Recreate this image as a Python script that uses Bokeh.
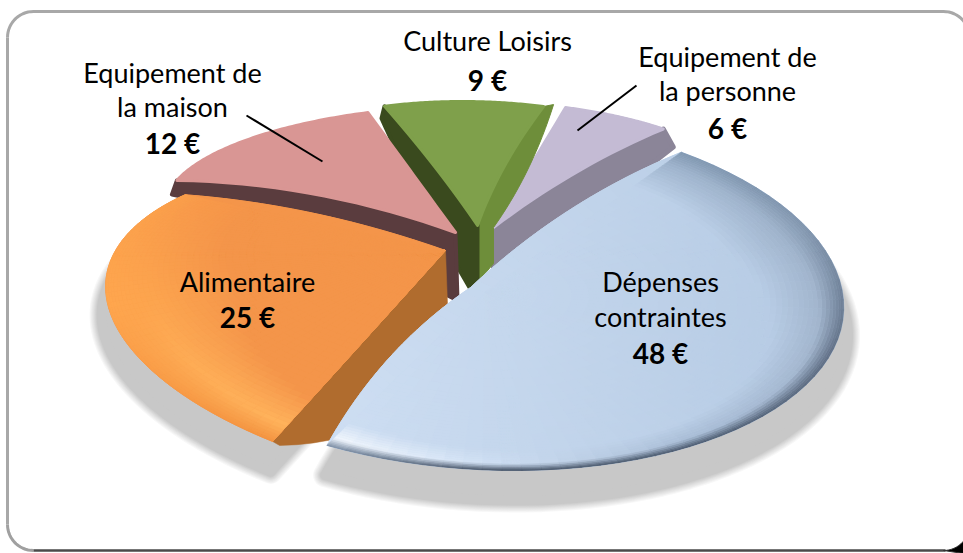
import numpy as np
from bokeh.plotting import figure
from bokeh.models import Range1d
from bokeh.core.properties import value
from bokeh.embed import file_html
from bokeh.resources import INLINE

# ---- data
categories = ["Dépenses contraintes", "Alimentaire", "Equipement de la maison", "Culture Loisirs", "Equipement de la personne"]
amounts = [48, 25, 12, 9, 6]
amount_labels = ["48 €", "25 €", "12 €", "9 €", "6 €"]

W, H = 963, 553
FONT = "Lato"
FIRST_ANGLE = 52.0

p = figure(width=W, height=H, x_range=Range1d(0, W), y_range=Range1d(H, 0),
           toolbar_location=None, output_backend="svg", min_border=0,
           outline_line_color=None, background_fill_color="white", border_fill_color="white")
p.styles = {"position": "absolute", "left": "0px", "top": "0px"}
p.axis.visible = False
p.grid.visible = False

# angles come from the values
fractions = np.array(amounts) / sum(amounts) * 360.0
ends = FIRST_ANGLE - np.cumsum(fractions)
starts = ends + fractions

# per-slice projection: apex, x scale, shear, y scale, perspective
FRAME = {
    0: dict(ax=484, ay=292, sx=358, sh=-30, sy=178, P=0.0, ex=470, ey=287),
    1: dict(ax=445, ay=250, sx=330, sh=-75, sy=134.5, P=0.46),
    2: dict(ax=455, ay=232, sx=279, sh=18.7, sy=84, P=-0.34),
    3: dict(ax=477, ay=225, sx=285, sh=-15, sy=124, P=0.0),
    4: dict(ax=493, ay=227, sx=288, sh=-9.6, sy=125, P=0.0),
}
# bow of the first/second straight edge at mid length, px
BOW = {
    0: ((-6, -10), (-9, -9)),
    1: ((2, -2), (0, -9)),
    2: ((0, -12), (0, 0)),
    3: ((3, 0), (-6, 0)),
    4: ((0, 0), (-2, -6)),
}


def proj(i, th, r=1.0):
    f = FRAME[i]
    u, v = r * np.cos(np.radians(th)), r * np.sin(np.radians(th))
    w = 1 + f["P"] * v
    return f["ax"] + (f["sx"] * u + f["sh"] * v) / w, f["ay"] - f["sy"] * v / w


def bez(a, b, bow, n=18):
    t = np.linspace(0, 1, n)[:, None]
    a, b = np.array(a, float), np.array(b, float)
    c = (a + b) / 2 + 2 * np.array(bow, float)
    return (1 - t) ** 2 * a + 2 * t * (1 - t) * c + t ** 2 * b


def edge_apex(i):
    f = FRAME[i]
    return f.get("ex", f["ax"]), f.get("ey", f["ay"])


def outline(i, n=70):
    apex = edge_apex(i)
    th = np.linspace(starts[i], ends[i], n)
    rx, ry = proj(i, th)
    rim = np.column_stack([rx, ry])
    e0 = bez(apex, rim[0], BOW[i][0])
    e1 = bez(rim[-1], apex, BOW[i][1])
    return np.vstack([e0, rim, e1])


def to_rgb(h):
    return np.array([int(h[k:k + 2], 16) for k in (1, 3, 5)], float)


def to_hex(c):
    c = np.clip(np.round(c), 0, 255).astype(int)
    return "#%02x%02x%02x" % tuple(c)


def top(i, color, lw=3):
    o = outline(i)
    p.patch(o[:, 0], o[:, 1], fill_color=color, line_color=color, line_width=lw, line_join="round")


def wall(i, edge, color, rim_off, apex_offs, bow=(0, 0), lw=0.5):
    apex = np.array([FRAME[i]["ax"], FRAME[i]["ay"]], float)
    th = starts[i] if edge == 0 else ends[i]
    c = np.array(proj(i, th), float)
    up = bez(apex, c, BOW[i][edge])
    low = bez(c + np.array(rim_off), apex + np.array(apex_offs[0]), bow)
    extra = apex + np.array(apex_offs[1:], float) if len(apex_offs) > 1 else np.zeros((0, 2))
    pts = np.vstack([up, low, extra])
    p.patch(pts[:, 0], pts[:, 1], fill_color=color, line_color=color, line_width=lw, line_join="round")


def shadow(i, scale, dy, color="#c8c8c8", steps=8):
    """Soft shadow: the slice outline with round strokes that narrow towards the final grey."""
    o = outline(i)
    f = FRAME[i]
    base = to_rgb(color)
    x = f["ax"] + (o[:, 0] - f["ax"]) * scale
    y = f["ay"] + (o[:, 1] - f["ay"]) * scale + dy
    for k in range(steps):
        t = (k + 1) / steps
        c = to_hex(255 + (base - 255) * t)
        lw = 26 - 16 * t
        p.patch(x, y, fill_color=c, line_color=c, line_width=lw, line_join="round")


def mesh(i, thk, widths, edge_c, high_c, base_c, grad=(0, 0, (0, 0, 0)), nth=54, nr=30, depth=0.42):
    """Shaded top surface: rings near the rim with colours varying along the rim."""
    th_edges = np.linspace(starts[i], ends[i], nth + 1)
    r_edges = np.concatenate([1 - depth * (np.arange(nr) / (nr - 1)) ** 1.5, np.linspace(1 - depth, 0, 13)[1:]])
    ec = np.array([to_rgb(c) for c in edge_c])
    hc = np.array([to_rgb(c) for c in high_c])
    xs, ys, cols = [], [], []
    base = to_rgb(base_c)
    order = np.argsort(thk)
    tk = np.array(thk, float)[order]

    def flat(xm):
        return base + (xm - grad[0]) * grad[1] * np.array(grad[2], float)

    # slivers between the curved straight-edge and the true radial edge
    apex = edge_apex(i)
    for th, bow, forward in ((starts[i], BOW[i][0], True), (ends[i], BOW[i][1], False)):
        rim = proj(i, th)
        curve = bez(apex, rim, bow, n=26)
        rr = np.linspace(0, 1, 26)
        for k in range(25):
            a0, a1 = curve[k], curve[k + 1]
            b0, b1 = proj(i, th, rr[k]), proj(i, th, rr[k + 1])
            xs.append([a0[0], a1[0], b1[0], b0[0]])
            ys.append([a0[1], a1[1], b1[1], b0[1]])
            cols.append(to_hex(flat((a0[0] + b1[0]) / 2)))

    for a in range(nth):
        tm = (th_edges[a] + th_edges[a + 1]) / 2
        w = np.interp(tm, tk, np.array(widths)[order])
        e = np.array([np.interp(tm, tk, ec[order, q]) for q in range(3)])
        h = np.array([np.interp(tm, tk, hc[order, q]) for q in range(3)])
        for b in range(len(r_edges) - 1):
            r0, r1 = r_edges[b], r_edges[b + 1]
            x0, y0 = proj(i, th_edges[a], r0)
            x1, y1 = proj(i, th_edges[a + 1], r0)
            x2, y2 = proj(i, th_edges[a + 1], r1)
            x3, y3 = proj(i, th_edges[a], r1)
            t = (1 - (r0 + r1) / 2) / w
            b2 = flat((x0 + x2) / 2)
            if t < 1:
                c = e + (h - e) * t
            elif t < 3:
                c = h + (b2 - h) * (t - 1) / 2
            else:
                c = b2
            xs.append([x0, x1, x2, x3])
            ys.append([y0, y1, y2, y3])
            cols.append(to_hex(c))
    p.patches(xs, ys, fill_color=cols, line_color=cols, line_width=0.6)


# ---- frame
R = 26
L, T, Rt, B = 7, 11, 969, 550
arc = np.linspace(0, np.pi / 2, 16)
fx = np.concatenate([L + R - R * np.cos(arc), Rt - R + R * np.sin(arc)])
fy = np.concatenate([T + R - R * np.sin(arc), T + R - R * np.cos(arc)])
p.line(fx, fy, line_color="#a8a8a8", line_width=3)
p.line([L, L], [T + R, B - R], line_color="#a8a8a8", line_width=3)
bx = L + R - R * np.sin(arc)
by = B - R + R * np.cos(arc)
p.line(bx, by, line_color="#a0a0a0", line_width=3)
p.line([L + R, 945], [B, B], line_color="#4a4a4a", line_width=2.5)
cx = Rt - R + R * np.cos(arc)
cy = B - R + R * np.sin(arc)
p.patch(np.concatenate([cx, [W, W]]), np.concatenate([cy, [H, cy[0]]]), fill_color="#000000", line_color="#333333", line_width=1)

# ---- shadows
shadow(1, 1.012, 28)
shadow(0, 1.012, 28)

# ---- slices, far to near
wall(4, 1, "#8b8598", (10, 18), [(0, 60)], bow=(0, 0), lw=5)
top(4, "#c4bbd4")

wall(3, 1, "#6e8e3a", (10, -2), [(16, 2), (16, 38), (0, 57)], bow=(4, 4), lw=1)
wall(3, 0, "#3a4a1e", (-3, 12), [(-8, 62), (0, 57)], bow=(-4, -2), lw=4)
top(3, "#7fa04b")

wall(2, 0, "#5a3c3e", (-5, 14), [(2, 68)], bow=(0, -12), lw=4)
top(2, "#d99694")

wall(1, 0, "#b06c2e", (7, 4), [(2, 53), (0, 0)], bow=(34, 34))
top(1, "#f4954a", lw=1)
mesh(1, [-121, -160, -211], [0.05, 0.12, 0.10],
     ["#f39340", "#ffa64e", "#faa04c"], ["#ffb35c", "#fca44e", "#f8994a"], "#f4954a")

top(0, "#c2d5ec", lw=1)
mesh(0, [52, 20, -20, -60, -95, -121], [0.08, 0.09, 0.06, 0.04, 0.04, 0.05],
     ["#8097b0", "#7f93ab", "#5d6c82", "#465569", "#3f4c5f", "#7d8fa6"],
     ["#9eb3cc", "#a0b4cc", "#a3b6ce", "#a9bdd6", "#d0e0f4", "#f2f7fd"],
     "#c0d3ea", grad=(600, 0.05, (-1, -0.8, -0.6)))

# ---- leader lines
p.line([246, 322], [115, 161], line_color="black", line_width=2)
p.line([636, 577], [85, 130], line_color="black", line_width=2)

# ---- texts
name_rows = [("Equipement de", 172, 72), ("la maison", 172, 106), ("Culture Loisirs", 487, 40),
             ("Equipement de", 727, 56), ("la personne", 727, 90), ("Alimentaire", 247, 281),
             ("Dépenses", 660, 281), ("contraintes", 660, 316)]
value_rows = [(amount_labels[2], 172, 142), (amount_labels[3], 487, 79), (amount_labels[4], 727, 127),
              (amount_labels[1], 247, 316), (amount_labels[0], 660, 352)]
p.text([r[1] for r in name_rows], [r[2] for r in name_rows], text=[r[0] for r in name_rows],
       text_font=value(FONT), text_font_size="27px", text_color="black",
       text_align="center", text_baseline="middle")
p.text([r[1] for r in value_rows], [r[2] for r in value_rows], text=[r[0] for r in value_rows],
       text_font=value(FONT), text_font_style="bold", text_font_size="28px", text_color="black",
       text_align="center", text_baseline="middle")

open("out.html", "w").write(file_html(p, INLINE))
